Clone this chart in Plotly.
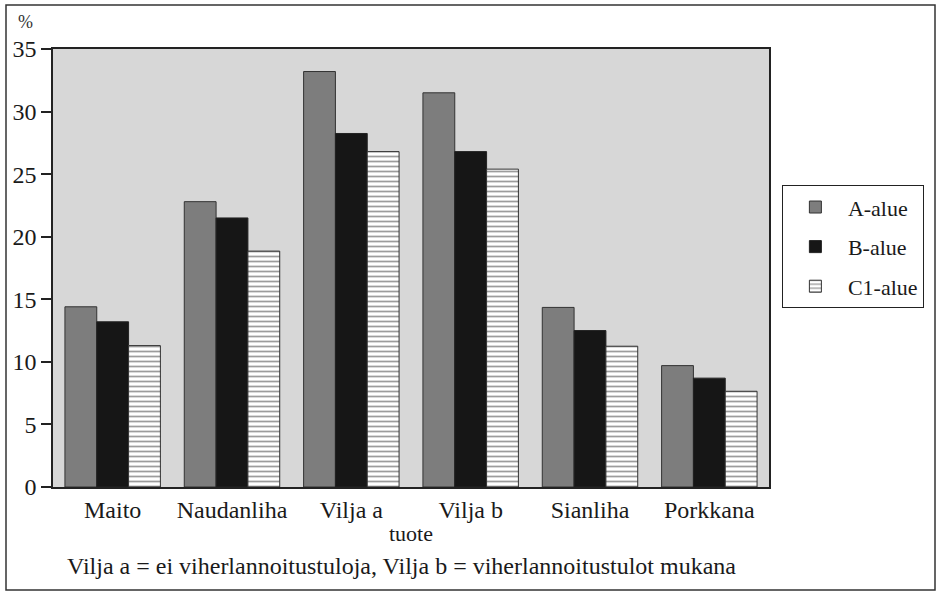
import plotly.graph_objects as go

categories = ["Maito", "Naudanliha", "Vilja a", "Vilja b", "Sianliha", "Porkkana"]
a_alue = [14.4, 22.8, 33.2, 31.5, 14.35, 9.7]
b_alue = [13.2, 21.5, 28.25, 26.8, 12.5, 8.7]
c1_alue = [11.3, 18.85, 26.8, 25.4, 11.25, 7.65]
series_names = ["A-alue", "B-alue", "C1-alue"]
y_ticks = [0, 5, 10, 15, 20, 25, 30, 35]

FONT = "Liberation Serif, Times New Roman, DejaVu Serif, serif"
fig = go.Figure()
fig.add_trace(go.Bar(x=categories, y=a_alue, name=series_names[0], legendgroup="a",
                     marker=dict(color="#7d7d7d", line=dict(color="#333333", width=1))))
fig.add_trace(go.Bar(x=categories, y=b_alue, name=series_names[1], legendgroup="b",
                     marker=dict(color="#161616", line=dict(color="#222222", width=1))))
fig.add_trace(go.Bar(x=categories, y=c1_alue, name=series_names[2], legendgroup="c",
                     marker=dict(color="white", line=dict(color="#333333", width=1),
                                 pattern=dict(shape="-", fgcolor="#3a3a3a", bgcolor="white",
                                              size=5, solidity=0.35))))

fig.update_layout(
    width=941, height=593,
    margin=dict(l=53, r=172, t=49, b=106),
    paper_bgcolor="white", plot_bgcolor="#d7d7d7",
    barmode="group", bargap=0.2, bargroupgap=0,
    font=dict(family=FONT, size=22, color="#1a1a1a"),
    showlegend=True,
    legend=dict(x=1.018, y=0.689, xanchor="left", yanchor="top",
                bordercolor="#222222", borderwidth=1, bgcolor="white",
                font=dict(family=FONT, size=22), tracegroupgap=8,
                itemwidth=55),
    xaxis=dict(showline=True, linecolor="#222222", linewidth=1.5, mirror=True,
               ticks="", showgrid=False, tickfont=dict(family=FONT, size=24),
               ticklabelstandoff=0,
               title=dict(text="tuote", font=dict(family=FONT, size=22), standoff=4)),
    yaxis=dict(range=[0, 35], tickvals=y_ticks, ticks="outside", ticklen=10,
               tickwidth=1.5, tickcolor="#222222",
               showline=True, linecolor="#222222", linewidth=1.5, mirror=True,
               showgrid=False, zeroline=False, tickfont=dict(family=FONT, size=24)),
    shapes=[dict(type="rect", xref="paper", yref="paper",
                 x0=-47/716, x1=882/716, y0=-103/438, y1=(487-5)/438,
                 line=dict(color="#333333", width=1.5))],
    annotations=[
        dict(text="%", xref="paper", yref="paper", x=-28/716, y=(487-22)/438,
             showarrow=False, font=dict(family=FONT, size=18, color="#333333"),
             xanchor="center", yanchor="middle"),
        dict(text="Vilja a = ei viherlannoitustuloja, Vilja b = viherlannoitustulot mukana",
             xref="paper", yref="paper", x=12/716, y=-(566-487)/438,
             showarrow=False, font=dict(family=FONT, size=24),
             xanchor="left", yanchor="middle"),
    ],
)

fig.write_html("out.html", config={"displayModeBar": False},
               post_script="document.body.style.margin='0';")
